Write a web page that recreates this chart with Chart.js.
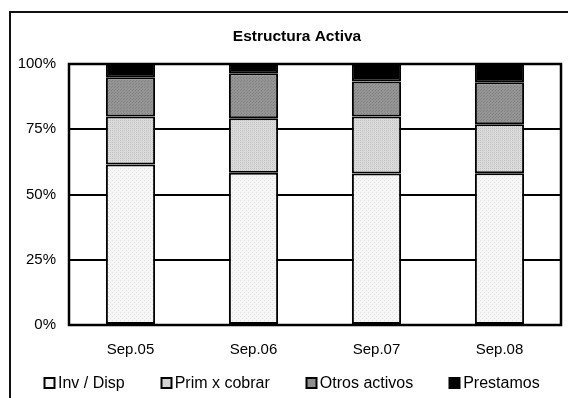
<!DOCTYPE html>
<html>
<head>
<meta charset="utf-8">
<script src="https://cdn.jsdelivr.net/npm/chart.js@4/dist/chart.umd.min.js"></script>
<style>
  html, body { margin: 0; padding: 0; background: #fff; }
  #wrap { position: relative; width: 568px; height: 398px; }
</style>
</head>
<body>
<div id="wrap"><canvas id="c" width="568" height="398"></canvas></div>
<script>
// Periods
const categories = ['Sep.05', 'Sep.06', 'Sep.07', 'Sep.08'];

// Share of total assets (%) per component
const invDisp      = [61.5, 58.3, 58.0, 58.1];
const primCobrar   = [18.4, 20.9, 21.9, 18.8];
const otrosActivos = [15.0, 17.3, 13.4, 16.1];
const prestamos    = [5.1, 3.5, 6.7, 7.0];

// Y axis ticks
const yTicks = [0, 25, 50, 75, 100];

const seriesNames = ['Inv / Disp', 'Prim x cobrar', 'Otros activos', 'Prestamos'];
const chartTitle = 'Estructura Activa';

const FONT = '"Liberation Sans", Arial, sans-serif';

// Small textured fills, in the style of printed gray patterns
function makePattern(base, dot, size, cells) {
  const p = document.createElement('canvas');
  p.width = size; p.height = size;
  const g = p.getContext('2d');
  g.fillStyle = base;
  g.fillRect(0, 0, size, size);
  g.fillStyle = dot;
  cells.forEach(([x, y]) => g.fillRect(x, y, 1, 1));
  return g.createPattern(p, 'repeat');
}
const ctx = document.getElementById('c').getContext('2d');
const fillInv   = makePattern('#f5f5f5', '#e6e6e6', 4, [[0, 0], [2, 2]]);
const fillPrim  = makePattern('#dadada', '#c4c4c4', 2, [[0, 0]]);
const fillOtros = makePattern('#939393', '#858585', 3, [[0, 0], [1, 2]]);
const fillPrest = '#000000';
const swatchFills = ['#f3f3f3', '#d2d2d2', '#8e8e8e', '#000000'];

// Outer frame of the chart object, the title and the plot outline
const framePlugin = {
  id: 'frame',
  beforeDraw(chart) {
    const c = chart.ctx;
    c.save();
    c.fillStyle = '#fff';
    c.fillRect(0, 0, chart.width, chart.height);
    c.strokeStyle = '#111';
    c.lineWidth = 2;
    c.beginPath();
    c.moveTo(10, chart.height + 2);
    c.lineTo(10, 12);
    c.lineTo(chart.width + 2, 12);
    c.stroke();
    c.font = 'bold 15.5px ' + FONT;
    c.fillStyle = '#000';
    c.textAlign = 'center';
    c.textBaseline = 'middle';
    c.fillText(chartTitle, 297, 37);
    c.restore();
  },
  beforeDatasetsDraw(chart) {
    const a = chart.chartArea;
    const c = chart.ctx;
    c.save();
    c.strokeStyle = '#000';
    c.lineWidth = 2.5;
    c.strokeRect(a.left, a.top, a.right - a.left, a.bottom - a.top);
    c.restore();
  }
};

// Legend row below the axis
const legendPlugin = {
  id: 'bottomLegend',
  afterDraw(chart) {
    const c = chart.ctx;
    const items = chart.data.datasets.map((d, i) => ({ text: d.label, fill: swatchFills[i] }));
    c.save();
    c.font = '16px ' + FONT;
    c.textBaseline = 'middle';
    const box = 10, gapText = 4, gapItem = 36;
    const widths = items.map(it => box + gapText + c.measureText(it.text).width);
    const total = widths.reduce((s, w) => s + w, 0) + gapItem * (items.length - 1);
    const cx = 292;
    let x = Math.round(cx - total / 2);
    const y = chart.height - 15;
    items.forEach((it, i) => {
      const bx = Math.round(x) + 0.5;
      c.fillStyle = it.fill;
      c.fillRect(bx, y - box / 2, box, box);
      c.strokeStyle = '#000';
      c.lineWidth = 2;
      c.strokeRect(bx, y - box / 2, box, box);
      c.fillStyle = '#000';
      c.fillText(it.text, x + box + gapText, y + 1);
      x += widths[i] + gapItem;
    });
    c.restore();
  }
};

const barCommon = {
  borderColor: '#000',
  borderWidth: 2,
  borderSkipped: false,
  barPercentage: 0.4,
  categoryPercentage: 1.0
};

new Chart(ctx, {
  type: 'bar',
  data: {
    labels: categories,
    datasets: [
      Object.assign({ label: seriesNames[0], data: invDisp, backgroundColor: fillInv }, barCommon),
      Object.assign({ label: seriesNames[1], data: primCobrar, backgroundColor: fillPrim }, barCommon),
      Object.assign({ label: seriesNames[2], data: otrosActivos, backgroundColor: fillOtros }, barCommon),
      Object.assign({ label: seriesNames[3], data: prestamos, backgroundColor: fillPrest }, barCommon)
    ]
  },
  options: {
    responsive: false,
    animation: false,
    devicePixelRatio: 1,
    layout: { padding: { left: 14, right: 7, top: 64, bottom: 40 } },
    plugins: {
      legend: { display: false },
      tooltip: { enabled: false },
      title: { display: false }
    },
    scales: {
      x: {
        stacked: true,
        grid: { display: false, drawTicks: false },
        border: { display: false },
        ticks: {
          color: '#000',
          padding: 16,
          font: { family: FONT, size: 15 }
        },
        afterFit(scale) { scale.height = 33; }
      },
      y: {
        stacked: true,
        min: 0,
        max: 100,
        afterBuildTicks(scale) { scale.ticks = yTicks.map(v => ({ value: v })); },
        grid: { color: '#000', lineWidth: 2, drawTicks: false },
        border: { display: false },
        ticks: {
          color: '#000',
          padding: 13,
          font: { family: FONT, size: 15 },
          callback: v => v + '%'
        },
        afterFit(scale) { scale.width = 55; }
      }
    }
  },
  plugins: [framePlugin, legendPlugin]
});
</script>
</body>
</html>
